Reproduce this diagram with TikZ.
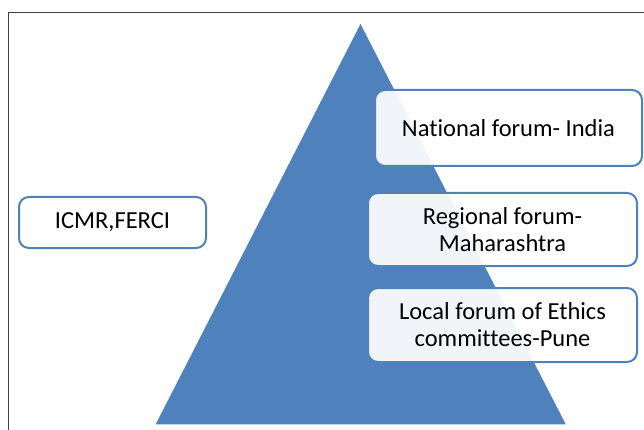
\documentclass[tikz,border=0pt]{standalone}
\usepackage{fontspec}
\setmainfont[Ligatures=NoCommon]{Carlito}
\definecolor{officeblue}{HTML}{4F81BD}
\definecolor{framegray}{HTML}{404040}
\tikzset{
  forumbox/.style={draw=officeblue, line width=2pt, rounded corners=10pt,
    fill=white, fill opacity=0.92, text opacity=1, align=center,
    inner sep=0pt, font=\fontsize{24.5}{27}\selectfont, text=black},
  pyramid/.style={fill=officeblue},
  frameline/.style={draw=framegray, line width=0.9pt}
}
\begin{document}
\begin{tikzpicture}[x=1pt,y=-1pt]
  \useasboundingbox (0,0) rectangle (644,430);
  \fill[white] (0,0) rectangle (644,430);
  % outer frame (top and left edges)
  \draw[frameline] (8,430) -- (8,12.5) -- (644,12.5);
  % pyramid
  \fill[pyramid] (360.5,24) -- (565.7,424.3) -- (155.7,424.3) -- cycle;
  % levels
  \node[forumbox, minimum width=267pt, minimum height=76pt] (national) at (508.5,128) {National forum- India};
  \node[forumbox, minimum width=269pt, minimum height=73pt] (regional) at (502.5,229.5) {Regional forum-\\Maharashtra};
  \node[forumbox, minimum width=269pt, minimum height=74pt] (local) at (502.5,325) {Local forum of Ethics\\committees-Pune};
  \node[forumbox, minimum width=187pt, minimum height=51pt] (icmr) at (112.5,222.5) {ICMR,FERCI};
\end{tikzpicture}
\end{document}
